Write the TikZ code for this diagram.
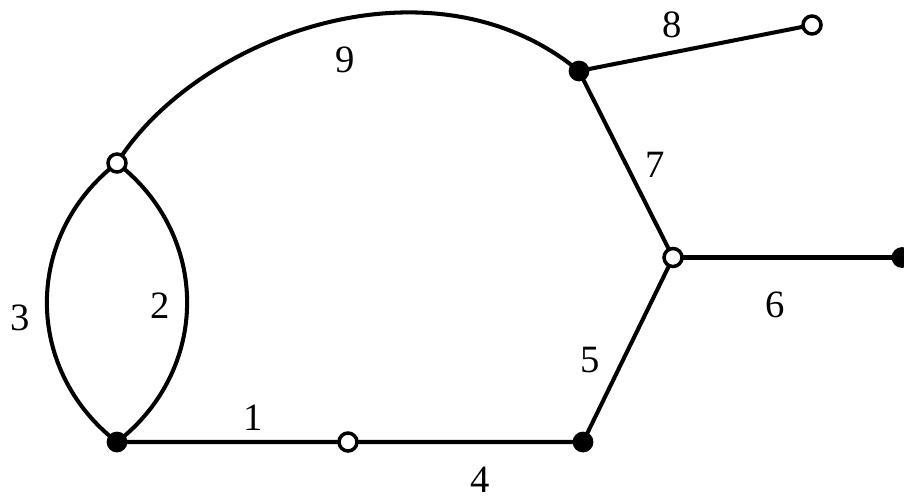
\documentclass[tikz,border=0pt]{standalone}
\usepackage{fontspec}
\setmainfont{Liberation Serif}
\usepackage{tikz}
\usetikzlibrary{positioning}

\begin{document}
\begin{tikzpicture}[
  every node/.style={font=\fontsize{22}{24}\selectfont},
  full/.style ={circle, fill=black, draw=black, line width=1pt, minimum size=0.38cm, inner sep=0pt},
  hollow/.style={circle, fill=white, draw=black, line width=2pt, minimum size=0.36cm, inner sep=0pt},
  lbl/.style  ={inner sep=1pt},
  edge/.style ={line width=2.3pt}]

\useasboundingbox (0,0) rectangle (18.08,10.06);

%% -- vertices --------------------------------------------------------
\coordinate (A) at (2.34,  6.80);
\coordinate (B) at (2.34,  1.22);
\coordinate (C) at (6.96,  1.22);
\coordinate (D) at (11.66, 1.22);
\coordinate (E) at (13.46, 4.91);
\coordinate (F) at (18.04, 4.91);
\coordinate (G) at (11.58, 8.64);
\coordinate (H) at (16.24, 9.56);

%% -- edges -----------------------------------------------------------
\draw[edge] (A) .. controls +(-1.87,-1.45) and +(-1.87,1.45) .. (B);
\draw[edge] (A) .. controls +(1.87,-1.45) and +(1.87,1.45) .. (B);
\draw[edge] (A) .. controls (3.9,9.3) and (8.6,11.1) .. (G);
\draw[edge] (B) -- (C) -- (D) -- (E) -- (G) -- (H);
\draw[edge] (E) -- (F);

%% -- vertex marks ----------------------------------------------------
\node[hollow] (va) at (A) {};
\node[full]   (vb) at (B) {};
\node[hollow] (vc) at (C) {};
\node[full]   (vd) at (D) {};
\node[hollow] (ve) at (E) {};
\node[full]   (vf) at (F) {};
\node[full]   (vg) at (G) {};
\node[hollow] (vh) at (H) {};

%% -- edge numbers ----------------------------------------------------
\node[lbl] (l1) at (5.06, 1.70) {1};
\node[lbl] (l2) at (3.20, 3.94) {2};
\node[lbl] (l3) at (0.40, 3.70) {3};
\node[lbl] (l4) at (9.60, 0.46) {4};
\node[lbl] (l5) at (11.80,2.86) {5};
\node[lbl] (l6) at (15.50,3.96) {6};
\node[lbl] (l7) at (13.10,6.76) {7};
\node[lbl] (l8) at (13.44,9.56) {8};
\node[lbl] (l9) at (6.90, 8.86) {9};
\end{tikzpicture}
\end{document}
